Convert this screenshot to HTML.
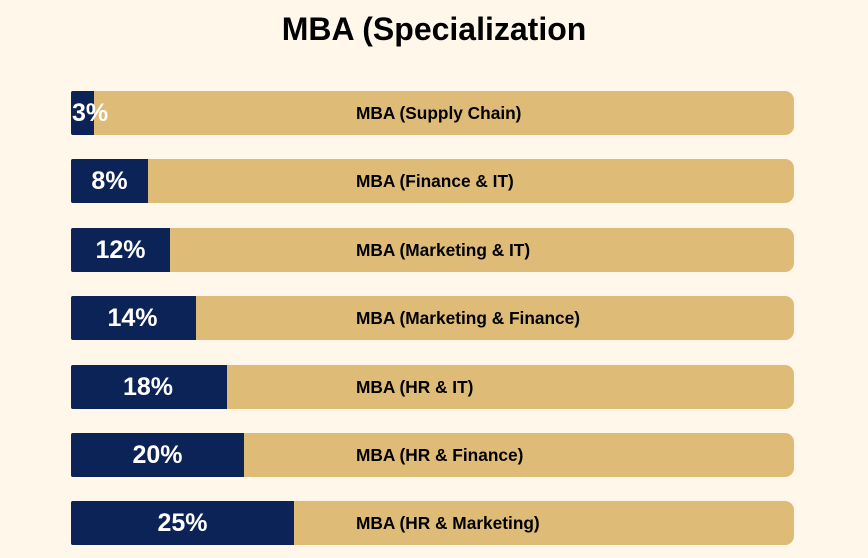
<!DOCTYPE html>
<html><head><style>
body{margin:0;width:868px;height:558px;background:#fff7ea;font-family:"Liberation Sans",sans-serif;position:relative;overflow:hidden}
h1{position:absolute;top:11px;left:0;width:868px;text-align:center;margin:0;font-size:32px;font-weight:bold;color:#000}
.bar{position:absolute;left:71px;width:723px;height:44px;background:#dfbb78;border-radius:2px 9px 9px 2px}
.fill{position:absolute;left:0;top:0;height:44px;background:#0c2357;border-radius:2px 0 0 2px}
.pct{position:absolute;top:0;height:44px;line-height:44px;color:#fff;font-weight:bold;font-size:25px;white-space:nowrap}
.lab{position:absolute;left:285px;top:1px;line-height:42px;font-weight:bold;font-size:17.3px;color:#000;white-space:nowrap}
</style></head><body>
<h1>MBA (Specialization</h1>
<div class="bar" style="top:91px"><div class="fill" style="width:23px"></div><div class="pct" style="left:1px">3%</div><div class="lab">MBA (Supply Chain)</div></div>
<div class="bar" style="top:159px"><div class="fill" style="width:77px"></div><div class="pct" style="left:0;width:77px;text-align:center">8%</div><div class="lab">MBA (Finance &amp; IT)</div></div>
<div class="bar" style="top:228px"><div class="fill" style="width:99px"></div><div class="pct" style="left:0;width:99px;text-align:center">12%</div><div class="lab">MBA (Marketing &amp; IT)</div></div>
<div class="bar" style="top:296px"><div class="fill" style="width:125px"></div><div class="pct" style="left:0;width:123px;text-align:center">14%</div><div class="lab">MBA (Marketing &amp; Finance)</div></div>
<div class="bar" style="top:365px"><div class="fill" style="width:156px"></div><div class="pct" style="left:0;width:154px;text-align:center">18%</div><div class="lab">MBA (HR &amp; IT)</div></div>
<div class="bar" style="top:433px"><div class="fill" style="width:173px"></div><div class="pct" style="left:0;width:173px;text-align:center">20%</div><div class="lab">MBA (HR &amp; Finance)</div></div>
<div class="bar" style="top:501px"><div class="fill" style="width:223px"></div><div class="pct" style="left:0;width:223px;text-align:center">25%</div><div class="lab">MBA (HR &amp; Marketing)</div></div>
</body></html>
